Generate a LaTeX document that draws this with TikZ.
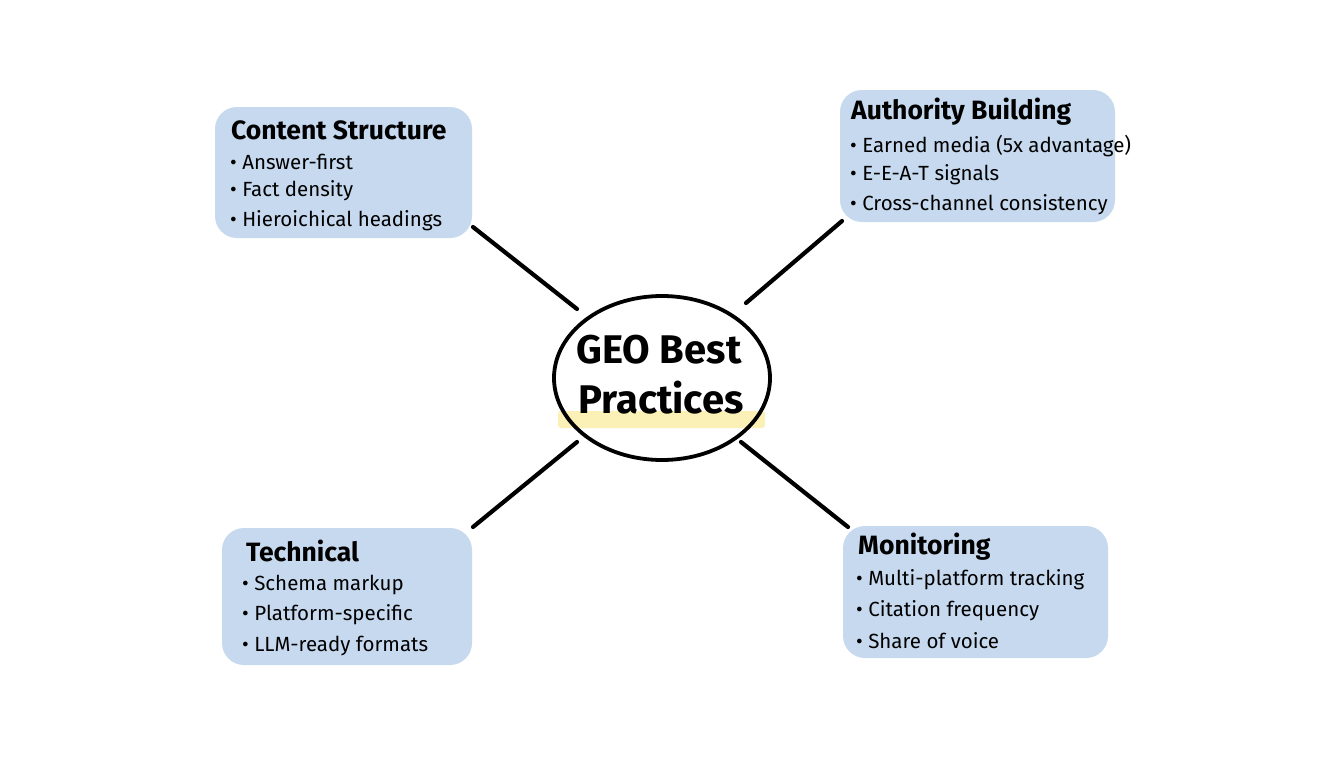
\documentclass[tikz,border=0pt]{standalone}
\usepackage{fontspec}
\setmainfont{Fira Sans}
\usetikzlibrary{shapes.geometric}
\definecolor{boxblue}{HTML}{C6D9EF}
\definecolor{hl}{HTML}{FBF0B5}
\tikzset{
  card/.style={fill=boxblue, rounded corners=22pt, draw=none, inner sep=0pt},
  ttl/.style={anchor=west, inner sep=0pt, font=\fontsize{26.5}{30}\selectfont\bfseries},
  itm/.style={anchor=west, inner sep=0pt, font=\fontsize{20.5}{24}\selectfont},
  link/.style={line width=4.2pt, line cap=round},
}
\begin{document}
\begin{tikzpicture}[x=1pt,y=-1pt]
\useasboundingbox (0,0) rectangle (1344,768);
\fill[white] (0,0) rectangle (1344,768);
% boxes
\node[card, minimum width=257pt, minimum height=131pt] (cs) at (343.5,172.5) {};
\node[card, minimum width=275pt, minimum height=132pt] (ab) at (977.5,156) {};
\node[card, minimum width=250pt, minimum height=137pt] (te) at (347,596.5) {};
\node[card, minimum width=265pt, minimum height=132pt] (mo) at (975.5,592) {};
% centre
\fill[hl, rounded corners=3pt] (558,411) rectangle (765,428);
\node[ellipse, draw, line width=3.8pt, minimum width=216pt, minimum height=164pt, inner sep=0pt] (geo) at (662,378) {};
\node[inner sep=0pt, font=\fontsize{40}{46}\selectfont\bfseries] (g1) at (659,350) {GEO Best};
\node[inner sep=0pt, font=\fontsize{40}{46}\selectfont\bfseries] (g2) at (661,398) {Practices};
% texts
\node[ttl] (cs0) at (231,130) {Content Structure};
\node[itm] (cs1) at (230,162) {• Answer-first};
\node[itm] (cs2) at (230,191) {• Fact density};
\node[itm] (cs3) at (230,221) {• Hieroichical headings};
\node[ttl] (ab0) at (851,112) {Authority Building};
\node[itm] (ab1) at (850,146) {• Earned media (5x advantage)};
\node[itm] (ab2) at (850,175) {• E-E-A-T signals};
\node[itm] (ab3) at (850,205) {• Cross-channel consistency};
\node[ttl] (te0) at (246,551) {Technical};
\node[itm] (te1) at (242,585) {• Schema markup};
\node[itm] (te2) at (242,615) {• Platform-specific};
\node[itm] (te3) at (242,646) {• LLM-ready formats};
\node[ttl] (mo0) at (858,547) {Monitoring};
\node[itm] (mo1) at (856,580) {• Multi-platform tracking};
\node[itm] (mo2) at (856,611) {• Citation frequency};
\node[itm] (mo3) at (856,641) {• Share of voice};
% connector end points
\coordinate (csA) at (473,227);
\coordinate (csB) at (577,309);
\coordinate (abA) at (842,221);
\coordinate (abB) at (746,303);
\coordinate (teA) at (473,527);
\coordinate (teB) at (577,442);
\coordinate (moA) at (848,527);
\coordinate (moB) at (741,442);
\draw[link] (csA) -- (csB);
\draw[link] (abA) -- (abB);
\draw[link] (teA) -- (teB);
\draw[link] (moA) -- (moB);
\end{tikzpicture}
\end{document}
